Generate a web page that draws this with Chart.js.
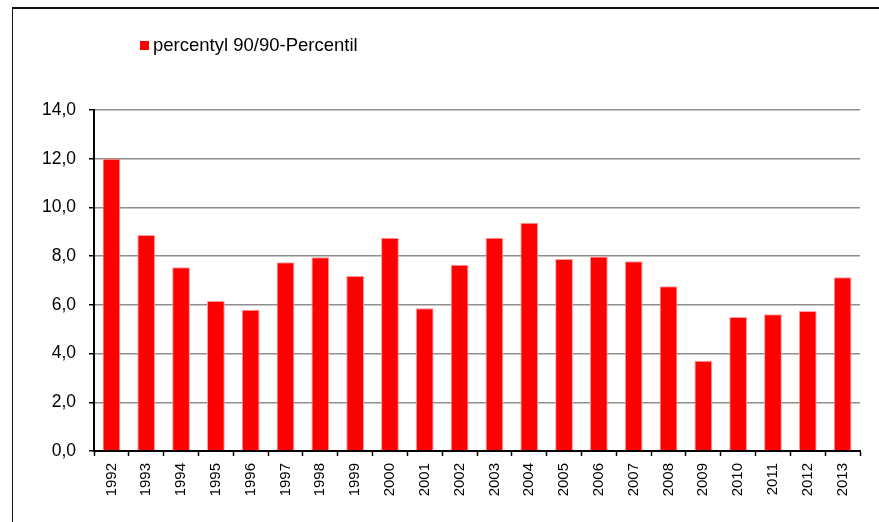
<!DOCTYPE html>
<html>
<head>
<meta charset="utf-8">
<script src="https://cdn.jsdelivr.net/npm/chart.js@4.4.1/dist/chart.umd.min.js"></script>
<style>
  body { margin: 0; background: #fff; overflow: hidden; }
  #wrap { position: relative; width: 879px; height: 522px; }
  #frame { position: absolute; left: 12px; top: 7px; width: 900px; height: 600px;
           border-top: 2px solid #111; border-left: 1px solid #111; }
  canvas { position: absolute; left: 0; top: 0; }
</style>
</head>
<body>
<div id="wrap">
  <div id="frame"></div>
  <canvas id="chart"></canvas>
</div>
<script>
const years = ['1992', '1993', '1994', '1995', '1996', '1997', '1998', '1999', '2000', '2001', '2002',
  '2003', '2004', '2005', '2006', '2007', '2008', '2009', '2010', '2011', '2012', '2013'];
const percentile90 = [12.0, 8.87, 7.54, 6.16, 5.80, 7.75, 7.95, 7.18, 8.76, 5.86, 7.65,
  8.76, 9.37, 7.88, 7.99, 7.79, 6.76, 3.71, 5.50, 5.61, 5.75, 7.13];
const seriesName = 'percentyl 90/90-Percentil';

const FONT = 'Arial, "Liberation Sans", sans-serif';

// simple legend drawn from the dataset, placed like in the original
const legendPlugin = {
  id: 'oldLegend',
  afterDraw(chart) {
    const ctx = chart.ctx;
    const ds = chart.data.datasets[0];
    ctx.save();
    ctx.fillStyle = ds.backgroundColor;
    ctx.fillRect(140, 41, 9, 9);
    ctx.fillStyle = '#000';
    ctx.font = '18.5px ' + FONT;
    ctx.textBaseline = 'middle';
    ctx.fillText(ds.label, 153, 46);
    ctx.restore();
  }
};

const canvas = document.getElementById('chart');
canvas.width = 879;
canvas.height = 522;

new Chart(canvas, {
  type: 'bar',
  data: {
    labels: years,
    datasets: [{
      label: seriesName,
      data: percentile90,
      backgroundColor: '#ff0000',
      borderColor: '#ff9c9c',
      borderWidth: 1,
      barPercentage: 0.51,
      categoryPercentage: 1
    }]
  },
  options: {
    responsive: false,
    animation: false,
    layout: { padding: { top: 110, right: 19, left: 0, bottom: 0 } },
    plugins: {
      legend: { display: false },
      tooltip: { enabled: false }
    },
    scales: {
      x: {
        afterFit: s => { s.height = 71; },
        border: { color: '#000', width: 2 },
        grid: { drawOnChartArea: false, drawTicks: true, tickLength: 5, tickColor: '#000', tickWidth: 1.5 },
        ticks: {
          color: '#000',
          font: { family: FONT, size: 15 },
          minRotation: 90,
          maxRotation: 90,
          padding: 7,
          autoSkip: false
        }
      },
      y: {
        min: 0,
        max: 14,
        afterFit: s => { s.width = 94; },
        border: { color: '#000', width: 2 },
        grid: { color: '#8e8e8e', lineWidth: 1.5, tickLength: 5, tickColor: '#000', tickWidth: 1.5 },
        ticks: {
          stepSize: 2,
          color: '#000',
          padding: 13,
          font: { family: FONT, size: 17.5 },
          callback: v => v.toFixed(1).replace('.', ',')
        }
      }
    }
  },
  plugins: [legendPlugin]
});
</script>
</body>
</html>
